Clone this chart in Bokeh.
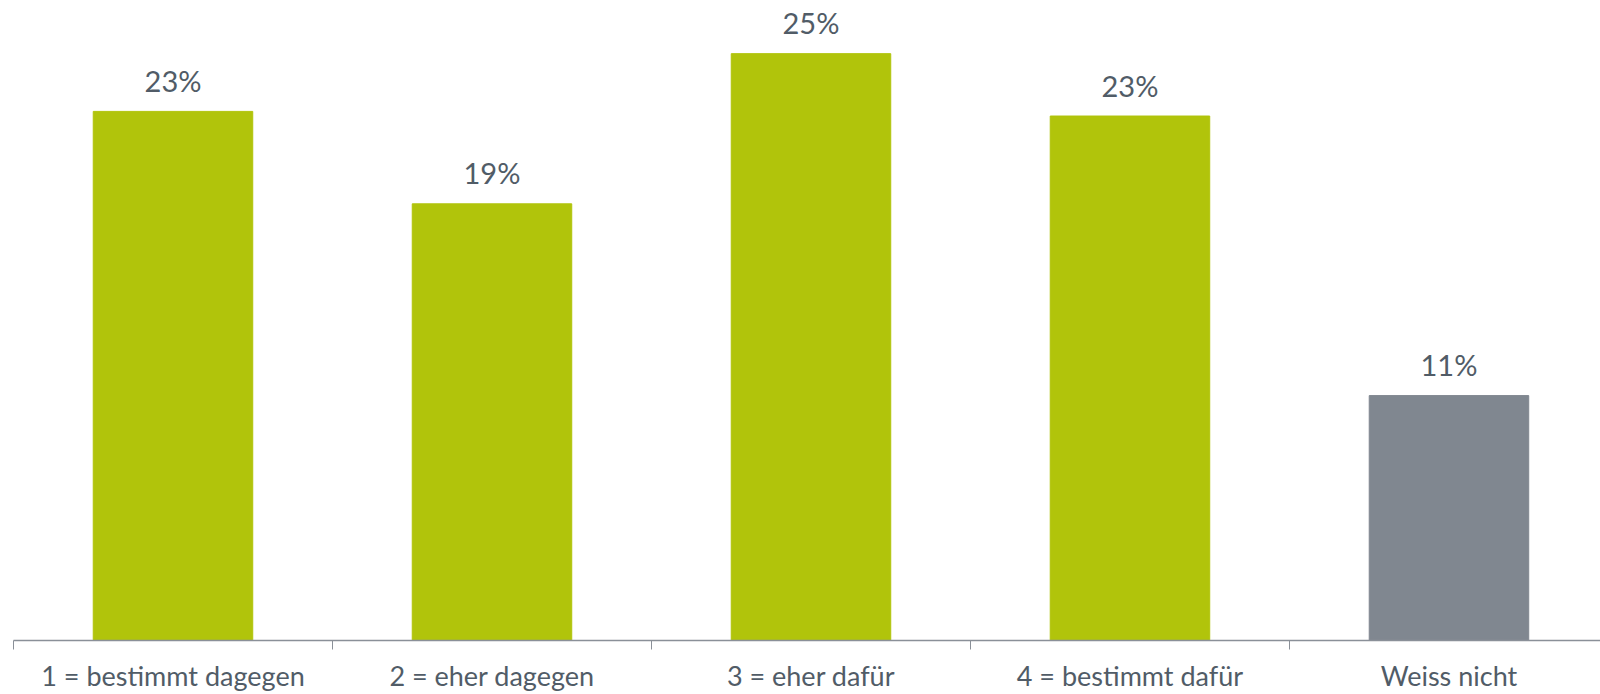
from bokeh.plotting import figure
from bokeh.models import ColumnDataSource, Range1d, FixedTicker
from bokeh.core.properties import value
from bokeh.embed import file_html
from bokeh.resources import INLINE

categories = ["1 = bestimmt dagegen", "2 = eher dagegen", "3 = eher dafür",
              "4 = bestimmt dafür", "Weiss nicht"]
values = [22.9, 18.9, 25.4, 22.7, 10.6]
value_labels = ["23%", "19%", "25%", "23%", "11%"]
bar_colors = ["#b1c40b", "#b1c40b", "#b1c40b", "#b1c40b", "#808790"]

xs = list(range(len(categories)))
src = ColumnDataSource(dict(x=xs, top=values, lab=value_labels, color=bar_colors))

TEXT = "#515c67"
AXIS = "#8a9098"

p = figure(width=1600, height=694, output_backend="svg", toolbar_location=None,
           x_range=Range1d(-0.5, 4.475), y_range=Range1d(0, 27.7),
           y_axis_location=None, min_border_left=13, min_border_right=0,
           min_border_top=0, min_border_bottom=54)
p.outline_line_color = None
p.xgrid.visible = False
p.ygrid.visible = False
p.background_fill_color = "white"

p.vbar(x="x", top="top", width=0.5, color="color", source=src)
p.text(x="x", y="top", text="lab", source=src, text_align="center",
       text_baseline="alphabetic", y_offset=-31, text_color=TEXT,
       text_font=value("Lato"), text_font_size="29px")

ax = p.xaxis[0]
ax.ticker = FixedTicker(ticks=xs, minor_ticks=[-0.5, 0.5, 1.5, 2.5, 3.5, 4.5])
ax.major_label_overrides = {i: c for i, c in zip(xs, categories)}
ax.major_tick_out = 0
ax.major_tick_in = 0
ax.minor_tick_out = 9
ax.minor_tick_in = 0
ax.minor_tick_line_color = AXIS
ax.axis_line_color = AXIS
ax.axis_line_width = 1.5
ax.major_label_text_font = "Lato"
ax.major_label_text_font_size = "27px"
ax.major_label_text_color = TEXT
ax.major_label_standoff = 9

open("out.html", "w").write(file_html(p, INLINE))
